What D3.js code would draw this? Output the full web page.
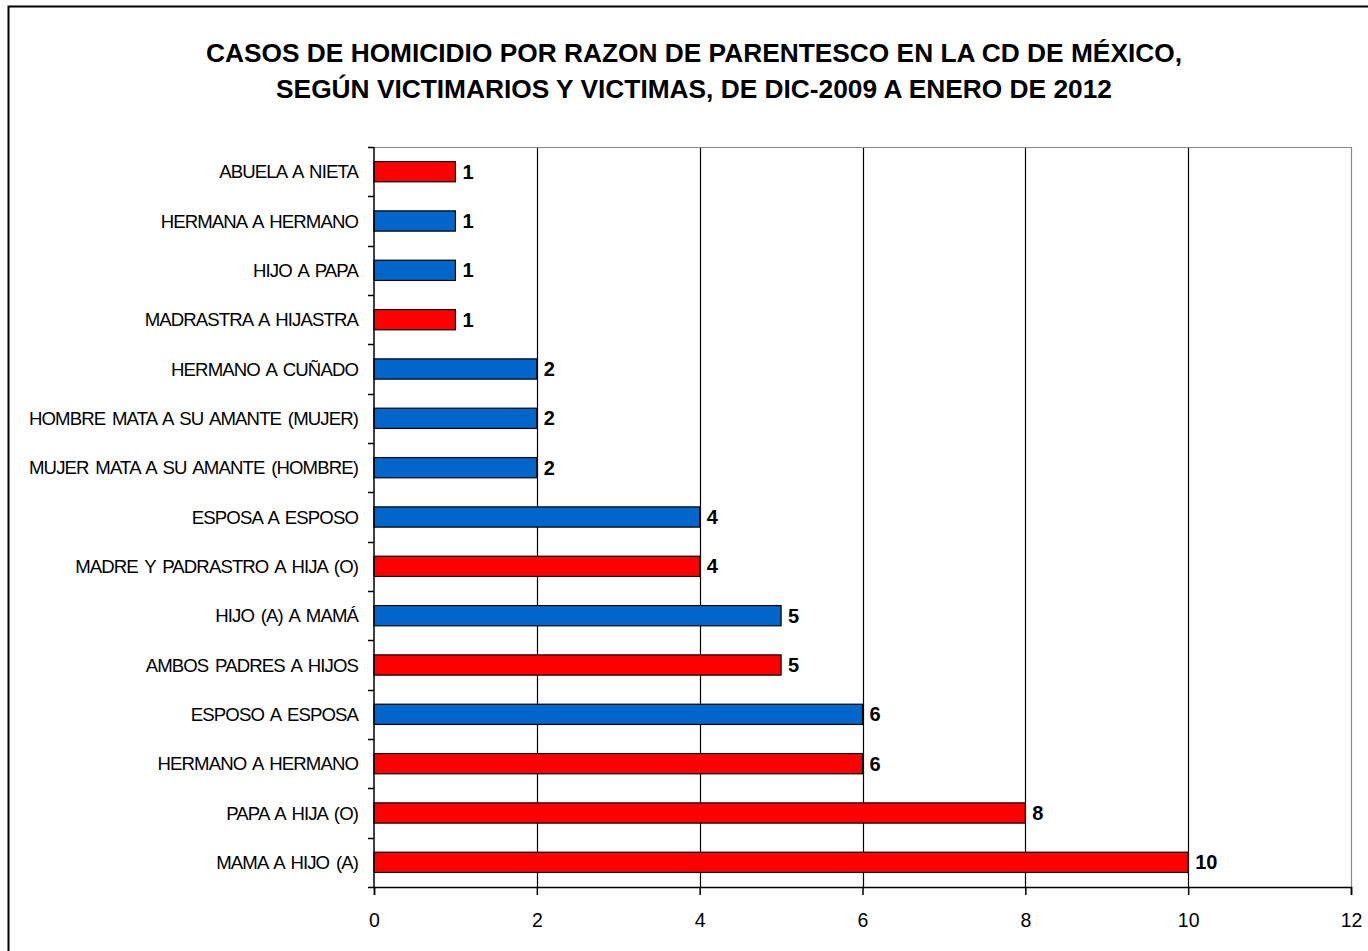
<!DOCTYPE html>
<html>
<head>
<meta charset="utf-8">
<script src="https://cdn.jsdelivr.net/npm/d3@7"></script>
<style>
  body { margin: 0; background: #fff; overflow: hidden; }
  text { font-family: "Liberation Sans", Arial, sans-serif; }
</style>
</head>
<body>
<script>
// Data
var categories = [
  "ABUELA A NIETA", "HERMANA A HERMANO", "HIJO A PAPA", "MADRASTRA A HIJASTRA",
  "HERMANO A CUÑADO", "HOMBRE MATA A SU AMANTE (MUJER)", "MUJER MATA A SU AMANTE (HOMBRE)",
  "ESPOSA A ESPOSO", "MADRE Y PADRASTRO A HIJA (O)", "HIJO (A) A MAMÁ",
  "AMBOS PADRES A HIJOS", "ESPOSO A ESPOSA", "HERMANO A HERMANO",
  "PAPA A HIJA (O)", "MAMA A HIJO (A)"
];
var values = [1, 1, 1, 1, 2, 2, 2, 4, 4, 5, 5, 6, 6, 8, 10];
var groups = ["r", "b", "b", "r", "b", "b", "b", "b", "r", "b", "r", "b", "r", "r", "r"];
var xTicks = [0, 2, 4, 6, 8, 10, 12];
var titleLines = [
  "CASOS DE HOMICIDIO POR RAZON DE PARENTESCO EN LA CD DE MÉXICO,",
  "SEGÚN VICTIMARIOS Y VICTIMAS, DE DIC-2009 A ENERO DE 2012"
];

var w = 1368, h = 951;
var plotL = 374, plotR = 1351, plotT = 147, plotB = 887;

var svg = d3.select("body").append("svg")
  .attr("width", w)
  .attr("height", h)
  .style("display", "block");

// outer frame
svg.append("rect")
  .attr("x", 8.5).attr("y", 6.5)
  .attr("width", w).attr("height", h)
  .attr("fill", "#fff").attr("stroke", "#000").attr("stroke-width", 2);

// title
svg.selectAll("text.title")
  .data(titleLines)
  .enter().append("text")
  .attr("class", "title")
  .attr("x", 694)
  .attr("y", function (d, i) { return 62 + i * 36; })
  .attr("text-anchor", "middle")
  .attr("font-size", 26.3)
  .attr("font-weight", "bold")
  .text(function (d) { return d; });

var x = d3.scaleLinear().domain([0, 12]).range([plotL, plotR]);
var y = d3.scaleBand().domain(categories).range([plotT, plotB]).paddingInner(0.59).paddingOuter(0.295);
var yb = d3.scaleBand().domain(categories).range([plotT, plotB]);

// gridlines
svg.selectAll("line.grid")
  .data(xTicks.slice(1))
  .enter().append("line")
  .attr("class", "grid")
  .attr("x1", function (d) { return Math.round(x(d)) + 0.5; })
  .attr("x2", function (d) { return Math.round(x(d)) + 0.5; })
  .attr("y1", plotT).attr("y2", plotB)
  .attr("stroke", function (d) { return d === 12 ? "#888" : "#000"; })
  .attr("stroke-width", 1.2);

// top border of plot area
svg.append("line")
  .attr("x1", plotL).attr("x2", plotR)
  .attr("y1", plotT + 0.5).attr("y2", plotT + 0.5)
  .attr("stroke", "#888");

// bars
svg.selectAll("rect.bar")
  .data(values)
  .enter().append("rect")
  .attr("class", "bar")
  .attr("x", x(0))
  .attr("y", function (d, i) { return y(categories[i]); })
  .attr("width", function (d) { return x(d) - x(0); })
  .attr("height", y.bandwidth())
  .attr("fill", function (d, i) { return groups[i] === "r" ? "#ff0000" : "#0066cc"; })
  .attr("stroke", "#000")
  .attr("stroke-width", 1.2);

// value labels
svg.selectAll("text.val")
  .data(values)
  .enter().append("text")
  .attr("class", "val")
  .attr("x", function (d) { return x(d) + 7; })
  .attr("y", function (d, i) { return y(categories[i]) + y.bandwidth() / 2 + 7; })
  .attr("font-size", 20)
  .attr("font-weight", "bold")
  .text(function (d) { return d; });

// x axis
var xAxis = d3.axisBottom(x).tickValues(xTicks).tickSize(8).tickPadding(18);
var gx = svg.append("g")
  .attr("transform", "translate(0," + plotB + ")")
  .call(xAxis);
gx.select(".domain").attr("stroke", "#000").attr("stroke-width", 1.5);
gx.selectAll(".tick line").attr("stroke", "#000").attr("stroke-width", 1.5);
gx.selectAll(".tick text")
  .attr("font-size", 19.5)
  .attr("font-family", "Liberation Sans, Arial, sans-serif")
  .attr("fill", "#000");

// y axis: ticks at band boundaries
var yEdges = categories.map(function (c) { return yb(c); }).concat([plotB]);
svg.append("line")
  .attr("x1", plotL).attr("x2", plotL)
  .attr("y1", plotT).attr("y2", plotB)
  .attr("stroke", "#000").attr("stroke-width", 1.5);
svg.selectAll("line.ytick")
  .data(yEdges)
  .enter().append("line")
  .attr("class", "ytick")
  .attr("x1", plotL - 6).attr("x2", plotL)
  .attr("y1", function (d) { return Math.round(d) + 0.5; })
  .attr("y2", function (d) { return Math.round(d) + 0.5; })
  .attr("stroke", "#000").attr("stroke-width", 1.5);

svg.selectAll("text.cat")
  .data(categories)
  .enter().append("text")
  .attr("class", "cat")
  .attr("x", plotL - 16)
  .attr("y", function (d) { return yb(d) + yb.bandwidth() / 2 + 6.5; })
  .attr("text-anchor", "end")
  .attr("font-size", 18.6)
  .attr("letter-spacing", -0.9)
  .attr("word-spacing", 2.5)
  .text(function (d) { return d; });
</script>
</body>
</html>
